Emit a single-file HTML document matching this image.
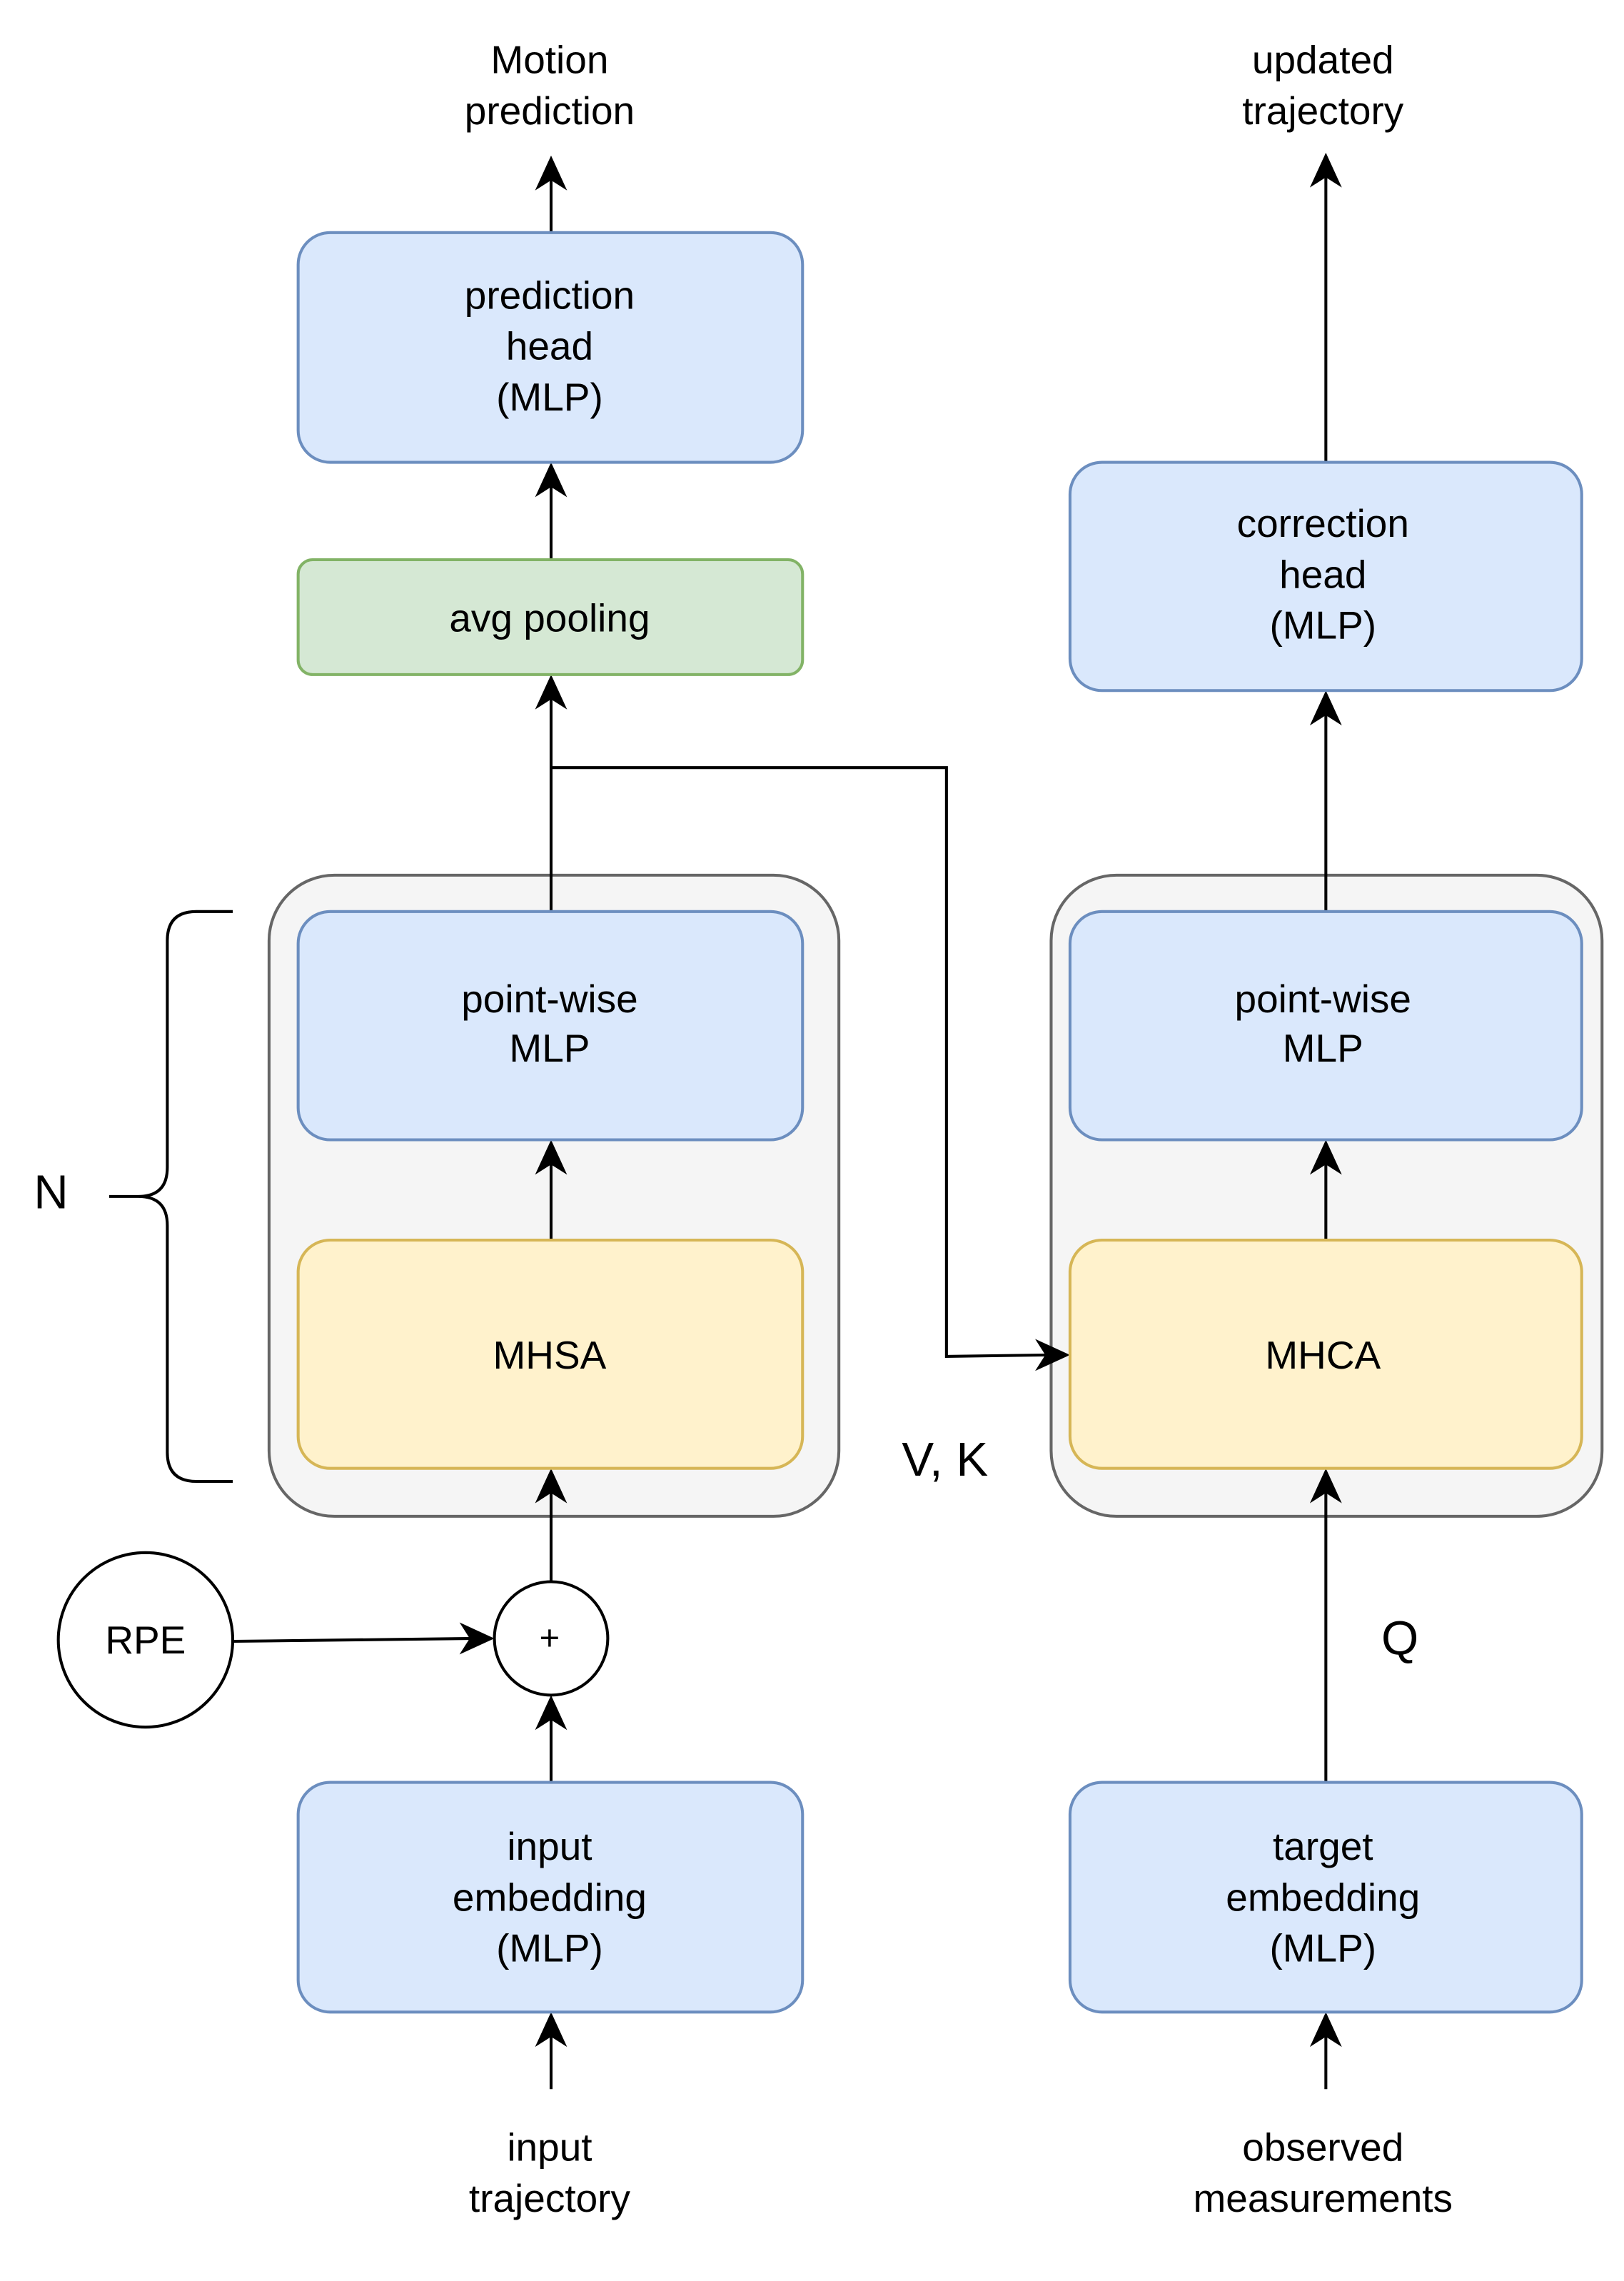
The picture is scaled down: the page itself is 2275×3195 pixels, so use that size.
<!DOCTYPE html>
<html><head><meta charset="utf-8">
<style>
html,body{margin:0;padding:0;background:#fff;}
svg{display:block;}
text{font-family:"Liberation Sans",Arial,sans-serif;fill:#000;text-anchor:middle;dominant-baseline:central;}
</style></head><body>
<svg width="2275" height="3195" viewBox="0 0 1117 1569" xmlns="http://www.w3.org/2000/svg">
<rect x="0" y="0" width="1117" height="1569" fill="#fff"/>
<!-- containers -->
<rect x="185" y="602" width="392" height="441" rx="45" fill="#f5f5f5" stroke="#666" stroke-width="2"/>
<rect x="723" y="602" width="379" height="441" rx="45" fill="#f5f5f5" stroke="#666" stroke-width="2"/>
<!-- lines -->
<g stroke="#000" stroke-width="2" fill="none">
<line x1="379" y1="160" x2="379" y2="120"/>
<line x1="379" y1="385" x2="379" y2="330"/>
<line x1="379" y1="627" x2="379" y2="476"/>
<polyline points="379,528 651,528 651,933 722,932"/>
<line x1="379" y1="853" x2="379" y2="796"/>
<line x1="379" y1="1088" x2="379" y2="1022"/>
<line x1="160" y1="1129" x2="328" y2="1127"/>
<line x1="379" y1="1226" x2="379" y2="1178"/>
<line x1="379" y1="1437" x2="379" y2="1396"/>
<line x1="912" y1="318" x2="912" y2="117"/>
<line x1="912" y1="627" x2="912" y2="487"/>
<line x1="912" y1="853" x2="912" y2="796"/>
<line x1="912" y1="1226" x2="912" y2="1022"/>
<line x1="912" y1="1437" x2="912" y2="1396"/>
<path d="M160,627 L135,627 Q115,627 115,647 L115,803 Q115,823 95,823 L75,823 M95,823 Q115,823 115,843 L115,999 Q115,1019 135,1019 L160,1019"/>
</g>
<!-- arrowheads -->
<g fill="#000">
<polygon points="379,107 368,131 379,124 390,131"/>
<polygon points="379,318 368,342 379,335 390,342"/>
<polygon points="379,464 368,488 379,481 390,488"/>
<polygon points="379,784 368,808 379,801 390,808"/>
<polygon points="379,1010 368,1034 379,1027 390,1034"/>
<polygon points="379,1166 368,1190 379,1183 390,1190"/>
<polygon points="379,1384 368,1408 379,1401 390,1408"/>
<polygon points="340,1127 316,1116 323,1127 316,1138"/>
<polygon points="736,932 712,921 719,932 712,943"/>
<polygon points="912,105 901,129 912,122 923,129"/>
<polygon points="912,475 901,499 912,492 923,499"/>
<polygon points="912,784 901,808 912,801 923,808"/>
<polygon points="912,1010 901,1034 912,1027 923,1034"/>
<polygon points="912,1384 901,1408 912,1401 923,1408"/>
</g>
<!-- boxes -->
<g stroke-width="2">
<rect x="205" y="160" width="347" height="158" rx="22" fill="#dae8fc" stroke="#6c8ebf"/>
<rect x="205" y="385" width="347" height="79" rx="10" fill="#d5e8d4" stroke="#82b366"/>
<rect x="205" y="627" width="347" height="157" rx="22" fill="#dae8fc" stroke="#6c8ebf"/>
<rect x="205" y="853" width="347" height="157" rx="22" fill="#fff2cc" stroke="#d6b656"/>
<rect x="205" y="1226" width="347" height="158" rx="22" fill="#dae8fc" stroke="#6c8ebf"/>
<rect x="736" y="318" width="352" height="157" rx="22" fill="#dae8fc" stroke="#6c8ebf"/>
<rect x="736" y="627" width="352" height="157" rx="22" fill="#dae8fc" stroke="#6c8ebf"/>
<rect x="736" y="853" width="352" height="157" rx="22" fill="#fff2cc" stroke="#d6b656"/>
<rect x="736" y="1226" width="352" height="158" rx="22" fill="#dae8fc" stroke="#6c8ebf"/>
<circle cx="379" cy="1127" r="39" fill="#fff" stroke="#000"/>
<ellipse cx="100" cy="1128" rx="60" ry="60" fill="#fff" stroke="#000"/>
</g>
<!-- text -->
<g font-size="27">
<text x="378" y="41">Motion</text><text x="378" y="76">prediction</text>
<text x="910" y="41">updated</text><text x="910" y="76">trajectory</text>
<text x="378" y="203">prediction</text><text x="378" y="238">head</text><text x="378" y="273">(MLP)</text>
<text x="378" y="425">avg pooling</text>
<text x="378" y="687">point-wise</text><text x="378" y="721">MLP</text>
<text x="378" y="932">MHSA</text>
<text x="378" y="1270">input</text><text x="378" y="1305">embedding</text><text x="378" y="1340">(MLP)</text>
<text x="378" y="1477">input</text><text x="378" y="1512">trajectory</text>
<text x="910" y="360">correction</text><text x="910" y="395">head</text><text x="910" y="430">(MLP)</text>
<text x="910" y="687">point-wise</text><text x="910" y="721">MLP</text>
<text x="910" y="932">MHCA</text>
<text x="910" y="1270">target</text><text x="910" y="1305">embedding</text><text x="910" y="1340">(MLP)</text>
<text x="910" y="1477">observed</text><text x="910" y="1512">measurements</text>
<text x="100" y="1128">RPE</text>
<text x="378" y="1127" font-size="24">+</text>
</g>
<g font-size="33">
<text x="35" y="820">N</text>
<text x="650" y="1004">V, K</text>
<text x="963" y="1127">Q</text>
</g>
</svg>
</body></html>
